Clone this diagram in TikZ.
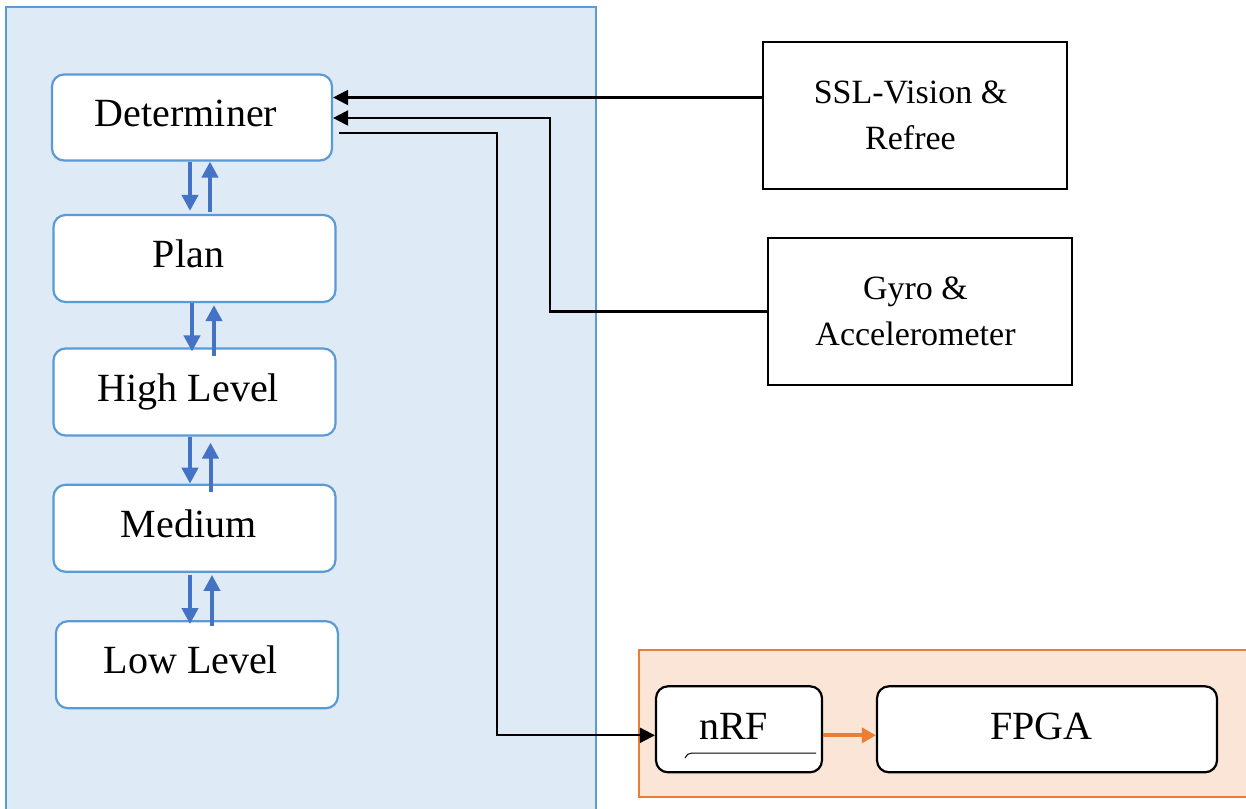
\documentclass[tikz,border=0pt]{standalone}
\usepackage{fontspec}
\setmainfont{Liberation Serif}
\usetikzlibrary{arrows.meta}
\definecolor{panelblue}{HTML}{DEEBF7}
\definecolor{edgeblue}{HTML}{5B9BD5}
\definecolor{arrowblue}{HTML}{4472C4}
\definecolor{panelorange}{HTML}{FBE5D6}
\definecolor{edgeorange}{HTML}{ED7D31}
\newcommand{\trail}{\kern4.5pt}
\tikzset{
  layerbox/.style={draw=edgeblue, line width=1.1pt, fill=white, rounded corners=6pt,
    minimum width=141pt, minimum height=43.5pt, inner sep=0pt,
    text height=13pt, text depth=4pt, execute at end node={\kern6pt},
    font=\fontsize{20}{24}\selectfont},
  sourcebox/.style={draw=black, line width=1pt, fill=white,
    minimum width=152pt, minimum height=73.5pt, inner sep=0pt, align=center,
    font=\fontsize{17}{23}\selectfont},
  hwbox/.style={draw=black, line width=1.1pt, fill=white, rounded corners=6pt,
    minimum height=43pt, inner sep=0pt, text height=13pt, text depth=2.5pt,
    execute at end node={\kern5.5pt}, font=\fontsize{20}{24}\selectfont},
  blackarrow/.style={draw=black, line width=1.1pt, -{Triangle[width=7.5pt,length=7.5pt]}},
  bluearrow/.style={draw=arrowblue, line width=2pt, -{Triangle[width=8pt,length=8pt]}},
  orangearrow/.style={draw=edgeorange, line width=2pt, -{Triangle[width=7.5pt,length=7pt]}},
}
\begin{document}
\begin{tikzpicture}[x=0.5pt, y=-0.5pt]
\useasboundingbox (0,0) rectangle (1246,808);

% software side and hardware side panels
\draw[draw=edgeblue, line width=1pt, fill=panelblue] (6,7) rectangle (596,814);
\draw[draw=edgeorange, line width=1pt, fill=panelorange] (639,650) rectangle (1252,797);

% layered software stack
\node[layerbox, minimum width=140pt, minimum height=43pt] (det) at (192,117.5) {Determiner};
\node[layerbox] (plan) at (194.5,258.5) {Plan};
\node[layerbox] (high) at (194.5,392) {High Level};
\node[layerbox] (med)  at (194.5,528.3) {Medium};
\node[layerbox] (low)  at (196.9,664.7) {Low Level};

% external inputs
\node[sourcebox] (ssl)  at (915,115.5) {SSL-Vision \&\trail\\Refree\trail};
\node[sourcebox] (gyro) at (920,311.5) {Gyro \&\trail\\Accelerometer\trail};

% robot hardware
\node[hwbox, minimum width=83pt] (nrf) at (739,729.3) {nRF};
\node[hwbox, minimum width=170pt] (fpga) at (1047,729.3) {FPGA};
\draw[line width=0.5pt] (685,758) to[out=70,in=180] (692,753) -- (816,753);

% up/down links between the layers
\coordinate (d1) at (190,0);  \coordinate (u1) at (210,0);
\coordinate (d2) at (192,0);  \coordinate (u2) at (214,0);
\coordinate (d3) at (190,0);  \coordinate (u3) at (210.5,0);
\coordinate (d4) at (190,0);  \coordinate (u4) at (212,0);
\draw[bluearrow] (det.south -| d1) -- ([yshift=1.5pt]plan.north -| d1);
\draw[bluearrow] ([yshift=1pt]plan.north -| u1) -- (det.south -| u1);
\draw[bluearrow] (plan.south -| d2) -- ([yshift=-2pt]high.north -| d2);
\draw[bluearrow] ([yshift=-4.5pt]high.north -| u2) -- ([yshift=-1pt]plan.south -| u2);
\draw[bluearrow] (high.south -| d3) -- (med.north -| d3);
\draw[bluearrow] ([yshift=-4pt]med.north -| u3) -- ([yshift=-3pt]high.south -| u3);
\draw[bluearrow] ([yshift=-1pt]med.south -| d4) -- ([yshift=-2pt]low.north -| d4);
\draw[bluearrow] ([yshift=-3pt]low.north -| u4) -- ([yshift=-1pt]med.south -| u4);

% data paths to and from the determiner
\coordinate (jssl) at ([yshift=10pt]det.east);
\draw[blackarrow] (ssl.west |- jssl) -- (jssl);

\coordinate (jgyro) at (550,118);
\draw[blackarrow] (gyro.west) -| (jgyro) -- (jgyro -| det.east);

\coordinate (jnrf) at (497,133);
\coordinate (nrfin) at ([yshift=-3pt]nrf.west);
\draw[blackarrow] ([xshift=3pt]det.east |- jnrf) -- (jnrf) |- (nrfin);

\draw[orangearrow] ([yshift=-3pt]nrf.east) -- ([yshift=-3pt]fpga.west);
\end{tikzpicture}
\end{document}
